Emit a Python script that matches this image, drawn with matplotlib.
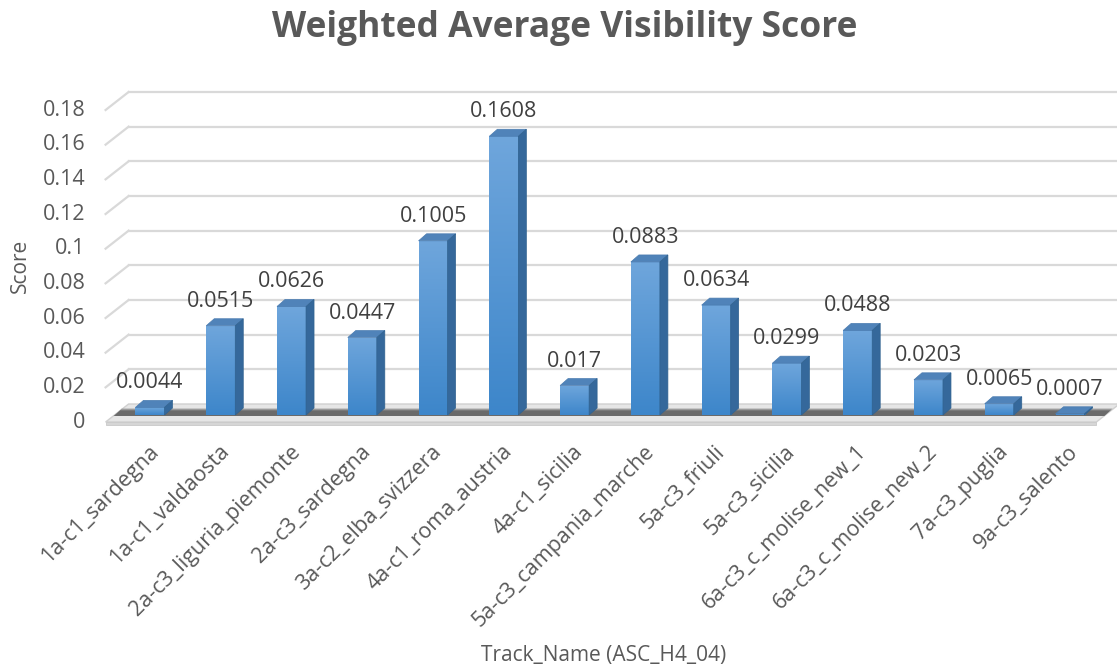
import numpy as np
import matplotlib
matplotlib.use("Agg")
import matplotlib.pyplot as plt
from matplotlib.patches import Polygon
from matplotlib.lines import Line2D
from matplotlib.transforms import IdentityTransform
from matplotlib.colors import LinearSegmentedColormap

# ---- data -------------------------------------------------------------
tracks = [
    "1a-c1_sardegna", "1a-c1_valdaosta", "2a-c3_liguria_piemonte",
    "2a-c3_sardegna", "3a-c2_elba_svizzera", "4a-c1_roma_austria",
    "4a-c1_sicilia", "5a-c3_campania_marche", "5a-c3_friuli",
    "5a-c3_sicilia", "6a-c3_c_molise_new_1", "6a-c3_c_molise_new_2",
    "7a-c3_puglia", "9a-c3_salento",
]
scores = [0.0044, 0.0515, 0.0626, 0.0447, 0.1005, 0.1608, 0.017,
          0.0883, 0.0634, 0.0299, 0.0488, 0.0203, 0.0065, 0.0007]
yticks = [0, 0.02, 0.04, 0.06, 0.08, 0.1, 0.12, 0.14, 0.16, 0.18]
ytick_labels = ["0", "0.02", "0.04", "0.06", "0.08", "0.1", "0.12",
                "0.14", "0.16", "0.18"]

TITLE = "Weighted Average Visibility Score"
XLABEL = "Track_Name (ASC_H4_04)"
YLABEL = "Score"

# ---- style ------------------------------------------------------------
FONT = ["Open Sans", "DejaVu Sans"]
TEXT = "#595959"
GRID = "#d9d9d9"
W, H, DPI = 1117, 671, 100

plt.rcParams["font.family"] = FONT

fig = plt.figure(figsize=(W / DPI, H / DPI), dpi=DPI)
fig.patch.set_facecolor("white")

# axes = the plane of the bars' front faces (pixel layout)
left_px, right_px = 114.6, 1105.4
zero_px, top_px = 415.0, 103.0          # image rows for 0 and 0.18
ax = fig.add_axes([left_px / W, (H - zero_px) / H,
                   (right_px - left_px) / W, (zero_px - top_px) / H])
ax.set_xlim(-0.5, len(tracks) - 0.5)
ax.set_ylim(0, 0.18)
ax.axis("off")

# depth offsets in display pixels (x right, y up)
FRONT = np.array([-9.0, -7.0])     # front plane (axis labels)
BACK = np.array([14.0, 11.0])      # back wall (gridlines)
BAR_DEPTH = np.array([8.0, 7.0])   # depth of each bar

to_disp = ax.transData.transform
PIX = IdentityTransform()


def poly(points, zorder, **kw):
    p = Polygon(np.asarray(points), closed=True, transform=PIX,
                clip_on=False, zorder=zorder, **kw)
    ax.add_patch(p)
    return p


def seg(p, q, zorder=0.5, **kw):
    ln = Line2D([p[0], q[0]], [p[1], q[1]], transform=PIX,
                clip_on=False, zorder=zorder, **kw)
    ax.add_line(ln)


x0, x1 = ax.get_xlim()

# ---- gridlines: diagonal on the side wall + horizontal on back wall ----
for v in yticks[1:]:
    a = to_disp((x0, v))
    b = to_disp((x1, v))
    seg(a + FRONT, a + BACK, color=GRID, lw=1.6)
    seg(a + BACK, b + BACK, color=GRID, lw=1.6)

# ---- floor slab --------------------------------------------------------
a = to_disp((x0, 0))
b = to_disp((x1, 0))
poly([a + FRONT, b + FRONT, b + BACK, a + BACK], 1,
     facecolor="#e6e6e6", edgecolor="#d0d0d0", lw=1.0)
# shadow band under the bars
s0, s1 = np.array([-1.0, -1.0]), BAR_DEPTH * 0.7
poly([a + s0, b + s0, b + s1, a + s1], 1.2,
     facecolor="#6a6a6a", edgecolor="none")
poly([a + s1, b + s1, b + s1 + [1.5, 1.5], a + s1 + [1.5, 1.5]], 1.2,
     facecolor="#9a9a9a", edgecolor="none")
# front lip of the floor
poly([a + FRONT, b + FRONT, b + FRONT + [0, -3], a + FRONT + [0, -3]], 1.3,
     facecolor="#d6d6d6", edgecolor="#c9c9c9", lw=0.6)

# ---- bars --------------------------------------------------------------
xs = np.arange(len(tracks))
bw = 0.41
bars = ax.bar(xs, scores, width=bw, color="#5b9bd5", zorder=3,
              edgecolor="none")

front_cmap = LinearSegmentedColormap.from_list("front", ["#3d86ca", "#6fa6dc"])
grad = np.linspace(0, 1, 256).reshape(-1, 1)

for rect, v in zip(bars, scores):
    xl = rect.get_x()
    xr = xl + rect.get_width()
    # vertical gradient on the front face, clipped to the bar
    im = ax.imshow(grad, cmap=front_cmap, origin="lower", aspect="auto",
                   extent=(xl, xr, 0, v), zorder=3.1)
    im.set_clip_path(rect)
    tl = to_disp((xl, v))
    br, tr = to_disp((xr, 0)), to_disp((xr, v))
    # top face
    poly([tl, tr, tr + BAR_DEPTH, tl + BAR_DEPTH], 4,
         facecolor="#5083b9", edgecolor="#4b7cb0", lw=0.5)
    # side face
    poly([br, tr, tr + BAR_DEPTH, br + BAR_DEPTH], 4,
         facecolor="#35689b", edgecolor="#30628f", lw=0.5)
    # value label above the bar
    ax.annotate(f"{v:g}", xy=(xl + rect.get_width() / 2, v),
                xytext=(0, 14), textcoords="offset pixels",
                ha="center", va="bottom", fontsize=15.5, color="#404040",
                zorder=6, annotation_clip=False)

ax.set_xlim(x0, x1)
ax.set_ylim(0, 0.18)

# ---- y tick labels (front plane) ---------------------------------------
for v, lab in zip(yticks, ytick_labels):
    p = to_disp((x0, v)) + FRONT
    fig.text((p[0] - 20) / W, p[1] / H, lab, ha="right", va="center",
             fontsize=15.5, color=TEXT)

# ---- x tick labels (front plane) ---------------------------------------
for x, lab in zip(xs, tracks):
    p = to_disp((x, 0)) + FRONT
    fig.text((p[0] + 7) / W, (p[1] - 19) / H, lab, ha="right", va="top",
             rotation=45, rotation_mode="anchor", fontsize=15.5, color=TEXT)

# ---- titles ------------------------------------------------------------
fig.text(565 / W, (H - 28) / H, TITLE, ha="center", va="center",
         fontsize=25.5, fontweight="bold", color=TEXT)
fig.text(604 / W, (H - 655) / H, XLABEL, ha="center", va="center",
         fontsize=15, color=TEXT)
fig.text(20 / W, (H - 266) / H, YLABEL, ha="center", va="center",
         rotation=90, fontsize=15, color=TEXT)

fig.savefig("out.png", dpi=DPI, facecolor="white")
